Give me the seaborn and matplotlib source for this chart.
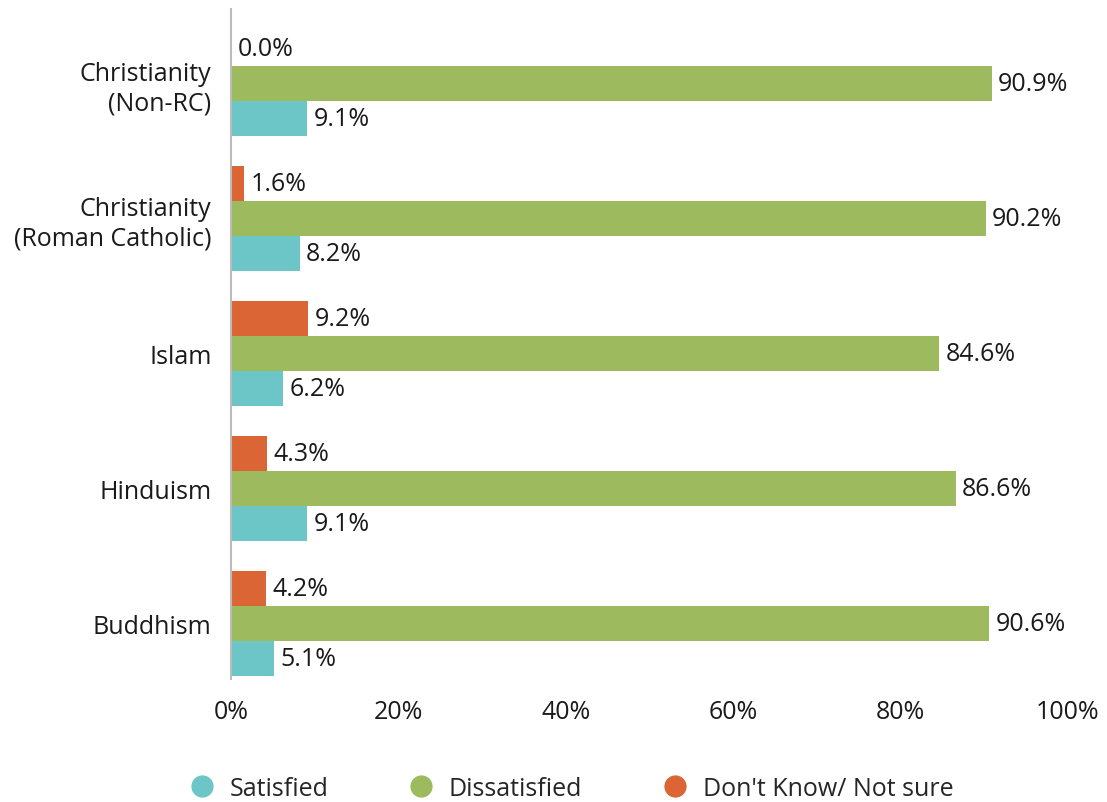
import matplotlib
matplotlib.use("Agg")
import matplotlib.pyplot as plt
from matplotlib.lines import Line2D
import seaborn as sns
import pandas as pd

religions = ["Christianity\n(Non-RC)", "Christianity\n(Roman Catholic)", "Islam", "Hinduism", "Buddhism"]
satisfied = [9.1, 8.2, 6.2, 9.1, 5.1]
dissatisfied = [90.9, 90.2, 84.6, 86.6, 90.6]
dont_know = [0.0, 1.6, 9.2, 4.3, 4.2]

series_names = ["Satisfied", "Dissatisfied", "Don't Know/ Not sure"]
colors = {"Satisfied": "#6CC5C7", "Dissatisfied": "#9DBA5F", "Don't Know/ Not sure": "#DB6535"}

rows = []
for name, vals in zip(series_names, [satisfied, dissatisfied, dont_know]):
    for rel, v in zip(religions, vals):
        rows.append({"Religion": rel, "Response": name, "Percent": v})
df = pd.DataFrame(rows)

sns.set_theme(style="white")
plt.rcParams["font.family"] = ["Open Sans", "DejaVu Sans"]
fs = 18

fig = plt.figure(figsize=(11.07, 8.03), dpi=100)
ax = fig.add_axes([0.2087, 0.153, 0.756, 0.8345])

draw_order = ["Don't Know/ Not sure", "Dissatisfied", "Satisfied"]
sns.barplot(data=df, y="Religion", x="Percent", hue="Response", order=religions,
            hue_order=draw_order, palette=colors, orient="h", width=0.78,
            saturation=1, dodge=True, ax=ax, legend=False, linewidth=0)

for cont in ax.containers:
    ax.bar_label(cont, labels=[f"{b.get_width():.1f}%" for b in cont],
                 padding=4.5, fontsize=fs, color="#1a1a1a")

ax.set_xlim(0, 100)
ax.set_ylim(4.41, -0.55)
ax.set_xticks([0, 20, 40, 60, 80, 100])
ax.set_xticklabels([f"{t}%" for t in [0, 20, 40, 60, 80, 100]], fontsize=fs, color="#1a1a1a")
ax.tick_params(axis="y", labelsize=fs, labelcolor="#1a1a1a", length=0, pad=14)
ax.tick_params(axis="x", length=0, pad=14)
for lbl in ax.get_yticklabels():
    lbl.set_multialignment("right")
ax.set_xlabel("")
ax.set_ylabel("")
for side in ["top", "right", "bottom"]:
    ax.spines[side].set_visible(False)
ax.spines["left"].set_color("#bbbbbb")
ax.spines["left"].set_linewidth(1.5)

handles = [Line2D([0], [0], marker="o", linestyle="", markersize=15,
                  markerfacecolor=colors[n], markeredgecolor=colors[n]) for n in series_names]
fig.legend(handles, series_names, loc="center", bbox_to_anchor=(0.516, 0.017), ncol=3,
           frameon=False, fontsize=fs, columnspacing=3.2, handlelength=1.0,
           handletextpad=0.62)

fig.savefig("out.png", dpi=100)
